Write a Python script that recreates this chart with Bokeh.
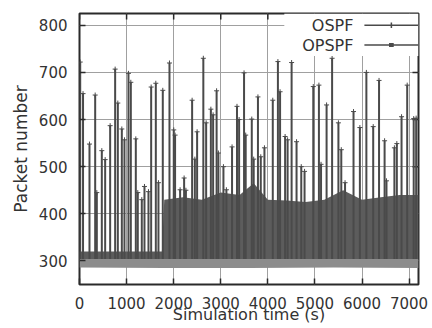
import numpy as np
from bokeh.plotting import figure
from bokeh.models import Range1d, BoxAnnotation, Label, Arrow, FixedTicker
from bokeh.embed import file_html
from bokeh.resources import INLINE

# ---- axes ----
x_ticks = [0, 1000, 2000, 3000, 4000, 5000, 6000, 7000]
y_ticks = [300, 400, 500, 600, 700, 800]
x_lim = (0, 7200)
y_lim = (250, 825)

# ---- OSPF: spike peaks (time s, packet number) ----
ospf_spike_t = [15, 75, 212, 333, 368, 474, 545, 651, 757, 814, 899, 955, 1040, 1090,
                1196, 1238, 1323, 1380, 1465, 1522, 1621, 1677, 1769, 1911, 2002, 2030,
                2137, 2222, 2260, 2392, 2450, 2498, 2630, 2690, 2790, 2838, 2912, 2950,
                3057, 3120, 3240, 3345, 3390, 3495, 3530, 3659, 3700, 3790, 3850, 3928,
                4105, 4214, 4260, 4367, 4420, 4505, 4610, 4710, 4780, 4965, 5085, 5130,
                5248, 5365, 5499, 5560, 5640, 5820, 5955, 6093, 6238, 6362, 6480, 6520,
                6688, 6740, 6840, 6960, 7098, 7150]
ospf_spike_v = [722, 655, 548, 652, 445, 534, 515, 587, 707, 635, 580, 557, 698, 679,
                559, 445, 430, 458, 447, 669, 677, 466, 662, 720, 578, 567,
                451, 476, 450, 641, 516, 574, 730, 593, 622, 610, 661, 529,
                500, 451, 542, 628, 600, 699, 567, 601, 516, 648, 521, 540,
                641, 723, 659, 564, 557, 721, 553, 500, 490, 670, 673, 505,
                631, 730, 593, 536, 466, 617, 583, 700, 585, 683, 555, 470,
                540, 549, 606, 673, 602, 603]
ospf_floor = 304

# ---- OSPF: dense oscillation envelope ----
ospf_env_t = [0, 1750, 1800, 2200, 2600, 3000, 3400, 3700, 4000, 4400, 4800, 5200,
              5600, 6000, 6400, 6800, 7200]
ospf_env_v = [320, 320, 430, 435, 430, 445, 440, 465, 430, 428, 425, 430,
              450, 430, 435, 440, 440]

# ---- OPSPF: dense oscillation band ----
opspf_t = [0, 1800, 3600, 5400, 7200]
opspf_low = [286, 285, 285, 286, 285]
opspf_high = [304, 304, 304, 304, 304]

series_names = ["OSPF", "OPSPF"]

FONT = "DejaVu Sans"
TXT = "#333333"
DARK = "#4a4a4a"
EDGE = "#2a2a2a"

p = figure(width=432, height=328, x_range=Range1d(*x_lim), y_range=Range1d(*y_lim),
           output_backend="svg", toolbar_location=None,
           min_border_left=79, min_border_right=14, min_border_top=13, min_border_bottom=44,
           background_fill_color="white", border_fill_color="white")

p.outline_line_color = EDGE
p.outline_line_width = 2

p.xaxis.ticker = FixedTicker(ticks=x_ticks)
p.yaxis.ticker = FixedTicker(ticks=y_ticks)
p.xgrid.ticker = FixedTicker(ticks=x_ticks)
p.ygrid.ticker = FixedTicker(ticks=y_ticks)
p.grid.grid_line_color = "#a0a0a0"
p.grid.grid_line_width = 1

for ax in (p.xaxis[0], p.yaxis[0]):
    ax.axis_line_color = None
    ax.major_tick_in = 6
    ax.major_tick_out = 0
    ax.major_tick_line_color = EDGE
    ax.major_tick_line_width = 1.5
    ax.minor_tick_line_color = None
    ax.major_label_text_font = FONT
    ax.major_label_text_font_size = "15px"
    ax.major_label_text_color = TXT
    ax.axis_label_text_font = FONT
    ax.axis_label_text_font_style = "normal"
    ax.axis_label_text_color = TXT

p.xaxis.axis_label = "Simulation time (s)"
p.xaxis.axis_label_text_font_size = "16px"
p.xaxis.major_label_standoff = 12
p.xaxis.axis_label_standoff = -7
p.yaxis.axis_label = "Packet number"
p.yaxis.axis_label_text_font_size = "17px"
p.yaxis.major_label_standoff = 12
p.yaxis.axis_label_standoff = 5

# mirrored inward ticks on top and right borders
tick_dx = (x_lim[1] - x_lim[0]) * 6 / 339
tick_dy = (y_lim[1] - y_lim[0]) * 6 / 271
p.segment(x0=x_ticks, y0=[y_lim[1]] * len(x_ticks), x1=x_ticks,
          y1=[y_lim[1] - tick_dy] * len(x_ticks), line_color=EDGE, line_width=1.5)
p.segment(x0=[x_lim[1]] * len(y_ticks), y0=y_ticks, x1=[x_lim[1] - tick_dx] * len(y_ticks),
          y1=y_ticks, line_color=EDGE, line_width=1.5)

# OPSPF dense band
p.varea(x=opspf_t, y1=opspf_low, y2=opspf_high, fill_color="#8c8c8c")

# OSPF dense oscillation
p.varea(x=ospf_env_t, y1=[ospf_floor] * len(ospf_env_t), y2=ospf_env_v,
        fill_color="#5c5c5c")

# OSPF spikes
p.segment(x0=ospf_spike_t, y0=[ospf_floor] * len(ospf_spike_t),
          x1=ospf_spike_t, y1=ospf_spike_v, line_color=DARK, line_width=2)
p.scatter(x=ospf_spike_t, y=ospf_spike_v, marker="cross", size=5,
          line_color=DARK, line_width=1)

# ---- key (gnuplot style: label left, sample right) ----
key_left = 4350
key_bottom = 735
key_text_x = 5817
key_line_x0 = 6051
key_mark_x = 6624
key_rows_y = [800, 758]

p.add_layout(BoxAnnotation(left=key_left, bottom=key_bottom, fill_color="white",
                           fill_alpha=1.0, line_color=None))
for name, ky, mk in zip(series_names, key_rows_y, ["cross", "dot"]):
    p.add_layout(Label(x=key_text_x, y=ky, text=name, text_align="right",
                       text_baseline="middle", text_font=FONT,
                       text_font_size="16px", text_color=TXT))
    p.add_layout(Arrow(end=None, x_start=key_line_x0, y_start=ky, x_end=x_lim[1], y_end=ky,
                       line_color=DARK, line_width=1.5))
    if mk == "cross":
        p.add_layout(Arrow(end=None, x_start=key_mark_x, y_start=ky - 6,
                           x_end=key_mark_x, y_end=ky + 6, line_color=DARK, line_width=1.5))
    else:
        p.add_layout(Arrow(end=None, x_start=key_mark_x - 50, y_start=ky,
                           x_end=key_mark_x + 50, y_end=ky, line_color=DARK, line_width=4))

open("out.html", "w").write(file_html(p, INLINE))
